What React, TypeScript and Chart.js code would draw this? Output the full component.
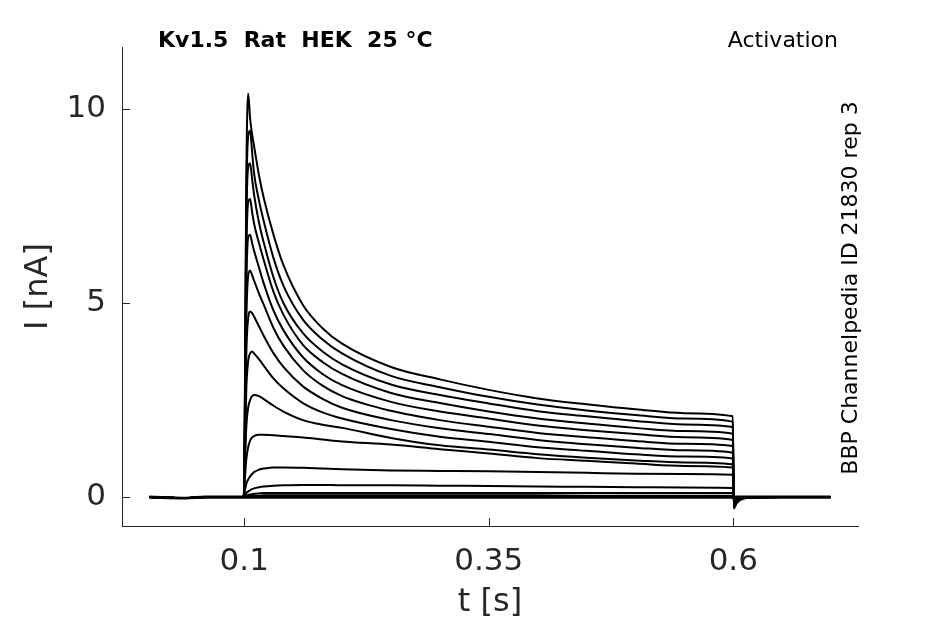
import { useEffect, useRef } from "react";
import { Chart, registerables } from "chart.js";

Chart.register(...registerables);

// ---- data ----
const timeS = [
  0.003, 0.04, 0.06, 0.0995, 0.1005, 0.102, 0.104, 0.106, 0.108, 0.11, 0.115, 0.12, 0.13, 0.14, 0.16, 0.18,
  0.2, 0.25, 0.3, 0.35, 0.4, 0.45, 0.5, 0.55, 0.5995, 0.6005, 0.603, 0.607, 0.615, 0.65, 0.6995,
];

const trace1 = [0, -0.03, 0, 0, 2.0, 8.0, 10.4, 9.75, 9.35, 9.05, 8.3, 7.7, 6.75, 5.98, 4.95, 4.35, 3.95, 3.35, 3.03, 2.76, 2.54, 2.39, 2.26, 2.16, 2.08, -0.3, -0.18, -0.08, -0.02, 0, 0];
const trace2 = [0, -0.03, 0, 0, 1.9, 7.4, 9.3, 9.45, 8.9, 8.35, 7.65, 7.1, 6.15, 5.45, 4.57, 4.06, 3.7, 3.12, 2.83, 2.58, 2.38, 2.23, 2.11, 2.02, 1.94, -0.28, -0.17, -0.07, -0.02, 0, 0];
const trace3 = [0, -0.03, 0, 0, 1.8, 6.8, 8.5, 8.6, 8.2, 7.8, 7.08, 6.55, 5.65, 5.0, 4.22, 3.75, 3.42, 2.9, 2.63, 2.41, 2.21, 2.08, 1.96, 1.87, 1.8, -0.26, -0.16, -0.07, -0.02, 0, 0];
const trace4 = [0, -0.03, 0, 0, 1.6, 6.0, 7.6, 7.68, 7.35, 7.05, 6.55, 6.1, 5.28, 4.7, 3.92, 3.48, 3.17, 2.68, 2.42, 2.2, 2.02, 1.89, 1.78, 1.7, 1.63, -0.24, -0.14, -0.06, -0.01, 0, 0];
const trace5 = [0, -0.03, 0, 0, 1.4, 5.2, 6.7, 6.76, 6.55, 6.35, 5.92, 5.5, 4.8, 4.3, 3.6, 3.17, 2.88, 2.45, 2.2, 2.02, 1.84, 1.72, 1.62, 1.54, 1.47, -0.22, -0.13, -0.05, -0.01, 0, 0];
const trace6 = [0, -0.03, 0, 0, 1.2, 4.4, 5.7, 5.84, 5.72, 5.58, 5.25, 4.95, 4.35, 3.9, 3.27, 2.87, 2.6, 2.22, 1.98, 1.81, 1.65, 1.54, 1.44, 1.37, 1.31, -0.2, -0.12, -0.05, -0.01, 0, 0];
const trace7 = [0, -0.03, 0, 0, 1.0, 3.6, 4.6, 4.78, 4.74, 4.65, 4.4, 4.15, 3.7, 3.35, 2.85, 2.53, 2.3, 1.98, 1.77, 1.62, 1.47, 1.36, 1.27, 1.2, 1.14, -0.17, -0.1, -0.04, -0.01, 0, 0];
const trace8 = [0, -0.03, 0, 0, 0.8, 2.7, 3.5, 3.7, 3.75, 3.7, 3.55, 3.38, 3.05, 2.8, 2.42, 2.18, 2.02, 1.75, 1.55, 1.42, 1.28, 1.19, 1.1, 1.04, 0.99, -0.15, -0.09, -0.04, -0.01, 0, 0];
const trace9 = [0, -0.03, 0, 0, 0.6, 1.75, 2.3, 2.5, 2.6, 2.63, 2.6, 2.52, 2.35, 2.2, 1.98, 1.86, 1.78, 1.52, 1.33, 1.22, 1.1, 1.01, 0.94, 0.89, 0.84, -0.12, -0.07, -0.03, 0, 0, 0];
const trace10 = [0, -0.03, 0, 0, 0.4, 0.95, 1.28, 1.45, 1.53, 1.57, 1.6, 1.6, 1.59, 1.57, 1.53, 1.48, 1.43, 1.35, 1.23, 1.12, 1.0, 0.93, 0.86, 0.8, 0.76, -0.12, -0.07, -0.03, 0, 0, 0];
const trace11 = [0, -0.03, 0, 0, 0.15, 0.33, 0.45, 0.53, 0.59, 0.64, 0.7, 0.73, 0.76, 0.76, 0.75, 0.73, 0.71, 0.68, 0.67, 0.66, 0.64, 0.62, 0.6, 0.59, 0.57, -0.08, -0.05, -0.02, 0, 0, 0];
const trace12 = [0, -0.03, 0, 0, 0.05, 0.1, 0.14, 0.17, 0.2, 0.22, 0.25, 0.27, 0.29, 0.3, 0.31, 0.31, 0.3, 0.3, 0.29, 0.28, 0.27, 0.26, 0.25, 0.24, 0.23, -0.04, -0.02, -0.01, 0, 0, 0];
const trace13 = [0, -0.03, 0, 0, 0.02, 0.04, 0.05, 0.06, 0.07, 0.08, 0.09, 0.1, 0.1, 0.1, 0.1, 0.1, 0.1, 0.1, 0.1, 0.1, 0.1, 0.1, 0.1, 0.1, 0.1, -0.01, 0, 0, 0, 0, 0];
const trace14 = [0, -0.03, 0, 0, 0.01, 0.02, 0.02, 0.03, 0.03, 0.03, 0.03, 0.04, 0.04, 0.04, 0.04, 0.04, 0.04, 0.04, 0.04, 0.04, 0.04, 0.03, 0.03, 0.03, 0.03, 0, 0, 0, 0, 0, 0];
const trace15 = [0.01, -0.02, 0.01, 0.01, 0.01, 0.01, 0.01, 0.01, 0.01, 0.01, 0.01, 0.01, 0.01, 0.01, 0.01, 0.01, 0.01, 0.01, 0.01, 0.01, 0.01, 0.01, 0.01, 0.01, 0.01, 0, 0.01, 0.01, 0.01, 0.01, 0.01];
const trace16 = [-0.02, -0.04, -0.02, -0.02, -0.02, -0.02, -0.02, -0.02, -0.02, -0.02, -0.02, -0.02, -0.02, -0.02, -0.02, -0.02, -0.02, -0.02, -0.02, -0.02, -0.02, -0.02, -0.02, -0.02, -0.02, -0.03, -0.02, -0.02, -0.02, -0.02, -0.02];

const traces = [trace1, trace2, trace3, trace4, trace5, trace6, trace7, trace8, trace9, trace10, trace11, trace12, trace13, trace14, trace15, trace16];

const xTicks = [0.1, 0.35, 0.6];
const xTickLabels = ["0.1", "0.35", "0.6"];
const yTicks = [0, 5, 10];
const yTickLabels = ["0", "5", "10"];

const titleLeft = "Kv1.5  Rat  HEK  25 °C";
const titleRight = "Activation";
const sideNote = "BBP Channelpedia ID 21830 rep 3";
const xTitle = "t [s]";
const yTitle = "I [nA]";

const AXIS = "#262626";
const FONT = "'DejaVu Sans', 'Liberation Sans', sans-serif";

const decorPlugin = {
  id: "decor",
  afterDraw(chart: any) {
    const { ctx, chartArea, scales } = chart;
    const xs = scales.x;
    const ys = scales.y;
    ctx.save();
    ctx.strokeStyle = AXIS;
    ctx.lineWidth = 1;
    ctx.beginPath();
    xTicks.forEach((v) => {
      const px = Math.round(xs.getPixelForValue(v)) + 0.5;
      ctx.moveTo(px, chartArea.bottom);
      ctx.lineTo(px, chartArea.bottom - 8);
    });
    yTicks.forEach((v) => {
      const py = Math.round(ys.getPixelForValue(v)) + 0.5;
      ctx.moveTo(chartArea.left, py);
      ctx.lineTo(chartArea.left + 8, py);
    });
    ctx.stroke();

    ctx.fillStyle = "#000";
    ctx.textBaseline = "alphabetic";
    ctx.font = `bold 22px ${FONT}`;
    ctx.textAlign = "left";
    ctx.fillText(titleLeft, 158, 47);
    ctx.font = `22px ${FONT}`;
    ctx.textAlign = "right";
    ctx.fillText(titleRight, 838, 47);

    ctx.translate(857, 288);
    ctx.rotate(-Math.PI / 2);
    ctx.textAlign = "center";
    ctx.font = `22px ${FONT}`;
    ctx.fillText(sideNote, 0, 0);
    ctx.restore();
  },
};

export default function App() {
  const ref = useRef<HTMLCanvasElement | null>(null);

  useEffect(() => {
    document.body.style.margin = "0";
    const canvas = ref.current;
    if (!canvas) return;
    Chart.defaults.font.family = FONT;

    const chart = new Chart(canvas, {
      type: "line",
      data: {
        datasets: traces.map((tr, k) => ({
          label: `trace ${k + 1}`,
          data: timeS.map((t, i) => ({ x: t, y: tr[i] })),
          borderColor: "#000",
          borderWidth: 2,
          pointRadius: 0,
          fill: false,
          cubicInterpolationMode: "monotone" as const,
        })),
      },
      options: {
        animation: false,
        responsive: false,
        events: [],
        layout: { padding: { top: 47, right: 87, left: 0, bottom: 0 } },
        plugins: { legend: { display: false }, tooltip: { enabled: false }, title: { display: false } },
        scales: {
          x: {
            type: "linear",
            min: -0.025,
            max: 0.7275,
            grid: { display: false, drawTicks: false },
            border: { display: true, color: AXIS, width: 1 },
            afterBuildTicks: (scale: any) => {
              scale.ticks = xTicks.map((v) => ({ value: v }));
            },
            afterFit: (scale: any) => {
              scale.height = 98;
            },
            ticks: {
              autoSkip: false,
              maxRotation: 0,
              padding: 17,
              color: AXIS,
              font: { size: 31, family: FONT },
              callback: (value: any) => {
                const i = xTicks.findIndex((v) => Math.abs(v - Number(value)) < 1e-9);
                return i >= 0 ? xTickLabels[i] : "";
              },
            },
            title: {
              display: true,
              text: xTitle,
              color: AXIS,
              font: { size: 32, family: FONT },
              padding: { top: 0, bottom: 2 },
            },
          },
          y: {
            type: "linear",
            min: -0.75,
            max: 11.6,
            grid: { display: false, drawTicks: false },
            border: { display: true, color: AXIS, width: 1 },
            afterBuildTicks: (scale: any) => {
              scale.ticks = yTicks.map((v) => ({ value: v }));
            },
            afterFit: (scale: any) => {
              scale.width = 122;
            },
            ticks: {
              autoSkip: false,
              padding: 16,
              color: AXIS,
              font: { size: 31, family: FONT },
              callback: (value: any) => {
                const i = yTicks.findIndex((v) => Math.abs(v - Number(value)) < 1e-9);
                return i >= 0 ? yTickLabels[i] : "";
              },
            },
            title: {
              display: true,
              text: yTitle,
              color: AXIS,
              font: { size: 32, family: FONT },
              padding: { top: 19, bottom: 0 },
            },
          },
        },
      },
      plugins: [decorPlugin],
    });

    return () => chart.destroy();
  }, []);

  return (
    <div style={{ width: 945, height: 624, position: "relative", background: "#fff" }}>
      <canvas ref={ref} width={945} height={624} />
    </div>
  );
}
